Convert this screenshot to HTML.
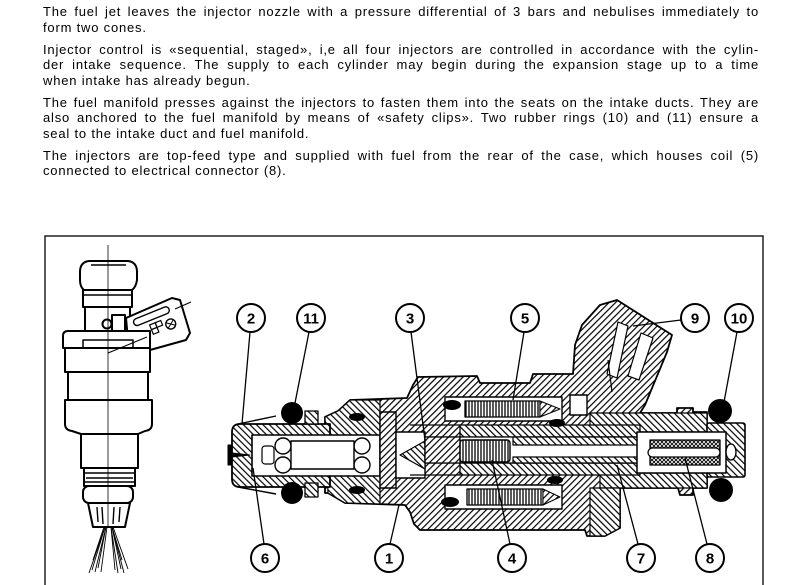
<!DOCTYPE html>
<html><head><meta charset="utf-8">
<style>
html,body{margin:0;padding:0;background:#fff;}
body{width:800px;height:585px;position:relative;overflow:hidden;font-family:"Liberation Sans",Arial,sans-serif;color:#000;}
.l{position:absolute;left:43px;width:716px;font-size:13px;line-height:16px;letter-spacing:0.8px;}
.j{text-align:justify;text-align-last:justify;}
svg{position:absolute;left:0;top:0;}
</style></head><body>
<div class="l j" style="top:4px">The fuel jet leaves the injector nozzle with a pressure differential of 3 bars and nebulises immediately to</div>
<div class="l" style="top:20px">form two cones.</div>
<div class="l j" style="top:42px">Injector control is «sequential, staged», i,e all four injectors are controlled in accordance with the cylin-</div>
<div class="l j" style="top:57px">der intake sequence. The supply to each cylinder may begin during the expansion stage up to a time</div>
<div class="l" style="top:73px">when intake has already begun.</div>
<div class="l j" style="top:95px">The fuel manifold presses against the injectors to fasten them into the seats on the intake ducts. They are</div>
<div class="l j" style="top:110px">also anchored to the fuel manifold by means of «safety clips». Two rubber rings (10) and (11) ensure a</div>
<div class="l" style="top:126px">seal to the intake duct and fuel manifold.</div>
<div class="l j" style="top:148px">The injectors are top-feed type and supplied with fuel from the rear of the case, which houses coil (5)</div>
<div class="l" style="top:163px">connected to electrical connector (8).</div>

<svg width="800" height="585" viewBox="0 0 800 585">
<defs>
<pattern id="hA" patternUnits="userSpaceOnUse" width="4.6" height="4.6" patternTransform="rotate(45)"><rect width="4.6" height="4.6" fill="#fff"/><line x1="0.6" y1="0" x2="0.6" y2="4.6" stroke="#000" stroke-width="1.2"/></pattern>
<pattern id="hB" patternUnits="userSpaceOnUse" width="4.6" height="4.6" patternTransform="rotate(-45)"><rect width="4.6" height="4.6" fill="#fff"/><line x1="0.6" y1="0" x2="0.6" y2="4.6" stroke="#000" stroke-width="1.2"/></pattern>
<pattern id="coil" patternUnits="userSpaceOnUse" width="3" height="20"><rect width="3" height="20" fill="#fff"/><line x1="1" y1="0" x2="1" y2="20" stroke="#000" stroke-width="1.3"/></pattern>
<pattern id="xh" patternUnits="userSpaceOnUse" width="4" height="4"><rect width="4" height="4" fill="#fff"/><path d="M0,0 L4,4 M4,0 L0,4" stroke="#000" stroke-width="0.9"/></pattern>
</defs>

<!-- frame -->
<path d="M45,585 L45,236 L763,236 L763,585" fill="none" stroke="#222" stroke-width="1.5"/>

<!-- left external injector -->
<g fill="#fff" stroke="#000" stroke-width="2" stroke-linejoin="round">
 <path d="M89,261 L128,261 Q137,262 137,272 L137,280 Q136,287 132,290 L84,290 Q80,287 80,280 L80,272 Q80,262 89,261 Z"/>
 <line x1="91" y1="265" x2="126" y2="265" stroke-width="1.5"/>
 <rect x="83" y="290" width="49" height="17"/>
 <line x1="83" y1="295" x2="132" y2="295" stroke-width="1.5"/>
 <rect x="85" y="307" width="45" height="24"/>
 <rect x="112" y="315" width="13" height="16"/>
 <circle cx="107" cy="324" r="4.5"/>
 <path d="M126,318 L172,298 L180,300 L190,333 L186,340 L150,350 L128,340 Z"/>
 <path d="M68,331 L150,331 L150,348 L63,348 L63,336 Q63,331 68,331 Z"/>
 <rect x="83" y="340" width="50" height="8" stroke-width="1.5"/>
 <rect x="65" y="348" width="85" height="24"/>
 <rect x="68" y="372" width="80" height="28"/>
 <path d="M65,400 L152,400 L152,424 Q152,430 145,431 L138,434 L81,434 L72,431 Q65,430 65,424 Z"/>
 <rect x="81" y="434" width="57" height="34"/>
 <rect x="84" y="468" width="51" height="18"/>
 <rect x="83" y="486" width="50" height="17" rx="6"/>
 <path d="M88,503 L130,503 L125,527 L93,527 Z"/>
</g>
<g stroke="#000" stroke-width="1.4" fill="none">
 <line x1="84" y1="473" x2="135" y2="473"/>
 <line x1="86" y1="478" x2="133" y2="478"/>
 <line x1="84" y1="482" x2="135" y2="482"/>
 <line x1="97" y1="507" x2="98" y2="522"/>
 <line x1="102" y1="507" x2="103" y2="524"/>
 <line x1="114" y1="507" x2="113" y2="524"/>
 <line x1="120" y1="507" x2="119" y2="522"/>
 <line x1="108" y1="353" x2="147" y2="337" stroke-width="1"/>
 <line x1="175" y1="309" x2="191" y2="302" stroke-width="1"/>
 <g transform="translate(157,322) rotate(-22)">
  <rect x="-22" y="-11" width="38" height="7" rx="3.5" stroke-width="1.4"/>
  <rect x="-8" y="0" width="6" height="5" stroke-width="1.2"/>
  <rect x="-2" y="0" width="6" height="5" stroke-width="1.2"/>
  <rect x="-8" y="5" width="6" height="5" stroke-width="1.2"/>
  <circle cx="12" cy="7" r="5" stroke-width="1.4"/>
  <path d="M8,4 L16,10 M16,4 L8,10" stroke-width="1"/>
 </g>
</g>
<line x1="108" y1="245" x2="108" y2="528" stroke="#000" stroke-width="0.8"/>
<g stroke="#000" stroke-width="0.9">
 <line x1="105" y1="527" x2="89" y2="573"/><line x1="105" y1="527" x2="92" y2="570"/>
 <line x1="106" y1="527" x2="95" y2="572"/><line x1="106" y1="527" x2="98" y2="568"/>
 <line x1="107" y1="527" x2="101" y2="572"/><line x1="104" y1="527" x2="93" y2="560"/>
 <line x1="111" y1="527" x2="115" y2="570"/><line x1="111" y1="527" x2="118" y2="573"/>
 <line x1="112" y1="527" x2="121" y2="569"/><line x1="112" y1="527" x2="124" y2="573"/>
 <line x1="113" y1="527" x2="128" y2="569"/><line x1="112" y1="527" x2="122" y2="560"/>
</g>

<!-- cross-section -->
<g stroke="#000" stroke-linejoin="round">
 <path d="M325,417 L338,411 L350,400 L407,398 L413,385 L418,377 L477,376 L480,383 L530,383 L533,374 L573,374 L575,345 L582,325 L600,305 L617,300 L672,335 L667,352 L645,405 L640,413 L677,413 L677,408 L693,408 L693,412 L707,412 L707,488 L693,488 L693,495 L680,495 L678,488 L620,488 L620,528 L605,536 L587,536 L585,530 L420,530 L414,524 L410,512 L405,505 L345,503 L328,493 L325,493 Z" fill="url(#hA)" stroke-width="1.8"/>
 <path d="M325,417 L338,411 L350,400 L380,400 L380,504 L345,503 L328,493 Z" fill="url(#hB)" stroke-width="1.2"/>
 <rect x="590" y="413" width="117" height="19" fill="url(#hB)" stroke-width="1.2"/>
 <rect x="600" y="473" width="107" height="15" fill="url(#hB)" stroke-width="1.2"/>
 <path d="M590,488 L620,488 L620,528 L605,536 L590,536 Z" fill="url(#hB)" stroke-width="1.2"/>
 <!-- connector slots -->
 <path d="M618,322 L628,326 L617,378 L607,374 Z" fill="#fff" stroke-width="1.2"/>
 <path d="M641,333 L653,338 L639,380 L628,376 Z" fill="#fff" stroke-width="1.2"/>
 <path d="M608,360 L612,392" fill="none" stroke-width="1.2"/>
 <rect x="570" y="395" width="17" height="20" fill="#fff" stroke-width="1.4"/>
 <!-- nozzle holder -->
 <path d="M240,424 L330,424 L330,487 L240,487 Q232,487 232,479 L232,432 Q232,424 240,424 Z" fill="url(#hB)" stroke-width="1.8"/>
 <rect x="252" y="435" width="128" height="41" fill="#fff" stroke-width="1.6"/>
 <circle cx="283" cy="446" r="8" fill="#fff" stroke-width="1.4"/>
 <circle cx="283" cy="465" r="8" fill="#fff" stroke-width="1.4"/>
 <circle cx="362" cy="446" r="8" fill="#fff" stroke-width="1.4"/>
 <circle cx="362" cy="465" r="8" fill="#fff" stroke-width="1.4"/>
 <rect x="291" y="441" width="63" height="28" fill="#fff" stroke-width="1.4"/>
 <rect x="262" y="446" width="12" height="18" rx="3" fill="#fff" stroke-width="1.2"/>
 <path d="M228,445 L232,445 L232,465 L228,465 Z M232,453 L250,455 L232,457" fill="#000" stroke-width="1"/>
 <path d="M238,424 L276,416 M238,487 L276,494" fill="none" stroke-width="1.4"/>
 <rect x="305" y="411" width="13" height="13" fill="url(#hB)" stroke-width="1.3"/>
 <rect x="305" y="483" width="13" height="14" fill="url(#hB)" stroke-width="1.3"/>
 <!-- seat plate and bore -->
 <rect x="380" y="412" width="16" height="76" fill="url(#hA)" stroke-width="1.4"/>
 <rect x="396" y="432" width="29" height="46" fill="#fff" stroke-width="1.4"/>
 <path d="M400,455 L425,441 L425,469 Z" fill="url(#hB)" stroke-width="1.2"/>
 <rect x="460" y="425" width="180" height="12" fill="url(#hB)" stroke-width="1.3"/>
 <rect x="460" y="463" width="180" height="12" fill="url(#hB)" stroke-width="1.3"/>
 <rect x="425" y="437" width="215" height="26" fill="#fff" stroke-width="1.3"/>
 <rect x="425" y="437" width="35" height="26" fill="url(#hA)" stroke-width="1.3"/>
 <rect x="513" y="437" width="127" height="8" fill="url(#hB)" stroke-width="1.2"/>
 <rect x="513" y="457" width="127" height="6" fill="url(#hB)" stroke-width="1.2"/>
 <rect x="460" y="440" width="50" height="22" rx="3" fill="url(#coil)" stroke-width="1.4"/>
 <line x1="410" y1="425" x2="460" y2="425" stroke-width="1.2"/>
 <line x1="410" y1="475" x2="460" y2="475" stroke-width="1.2"/>
 <!-- coil chambers -->
 <rect x="445" y="397" width="117" height="24" fill="#fff" stroke-width="1.4"/>
 <rect x="465" y="401" width="75" height="16" fill="url(#coil)" stroke-width="1.3"/>
 <rect x="445" y="485" width="117" height="24" fill="#fff" stroke-width="1.4"/>
 <rect x="467" y="489" width="76" height="16" fill="url(#coil)" stroke-width="1.3"/>
 <path d="M540,401 L560,409 L540,417 Z M543,489 L560,497 L543,505 Z" fill="url(#hA)" stroke-width="1"/>
 <!-- seals -->
 <g fill="#000" stroke="none">
  <ellipse cx="452" cy="405" rx="9" ry="5"/>
  <ellipse cx="557" cy="423" rx="8" ry="4"/>
  <ellipse cx="450" cy="502" rx="9" ry="5"/>
  <ellipse cx="555" cy="480" rx="8" ry="4"/>
  <ellipse cx="357" cy="417" rx="8" ry="4"/>
  <ellipse cx="357" cy="490" rx="8" ry="4"/>
 </g>
 <!-- rear end -->
 <rect x="707" y="423" width="38" height="54" rx="2" fill="url(#hB)" stroke-width="1.6"/>
 <rect x="637" y="432" width="89" height="41" fill="#fff" stroke-width="1.5"/>
 <rect x="650" y="440" width="70" height="25" fill="url(#xh)" stroke-width="1.3"/>
 <rect x="648" y="448" width="72" height="9" rx="4.5" fill="#fff" stroke-width="1.3"/>
 <ellipse cx="731" cy="452" rx="5" ry="8" fill="#fff" stroke-width="1.3"/>
 <!-- o-rings -->
 <g fill="#000" stroke="none">
  <circle cx="292" cy="413" r="11"/>
  <circle cx="292" cy="493" r="11"/>
  <circle cx="720" cy="411" r="12"/>
  <circle cx="721" cy="490" r="12"/>
 </g>
</g>

<!-- leader lines -->
<g stroke="#000" stroke-width="1.3">
 <line x1="250" y1="332" x2="242" y2="424"/>
 <line x1="309" y1="332" x2="295" y2="403"/>
 <line x1="411" y1="332" x2="425" y2="440"/>
 <line x1="524" y1="332" x2="513" y2="400"/>
 <line x1="681" y1="320" x2="633" y2="326"/>
 <line x1="737" y1="332" x2="724" y2="402"/>
 <line x1="264" y1="544" x2="253" y2="468"/>
 <line x1="390" y1="544" x2="399" y2="505"/>
 <line x1="510" y1="544" x2="492" y2="460"/>
 <line x1="638" y1="544" x2="617" y2="465"/>
 <line x1="707" y1="544" x2="685" y2="458"/>
</g>

<!-- labels -->
<g fill="#fff" stroke="#000" stroke-width="2">
 <circle cx="251" cy="318" r="14"/><circle cx="311" cy="318" r="14"/><circle cx="410" cy="318" r="14"/>
 <circle cx="525" cy="318" r="14"/><circle cx="695" cy="318" r="14"/><circle cx="739" cy="318" r="14"/>
 <circle cx="265" cy="558" r="14"/><circle cx="389" cy="558" r="14"/><circle cx="512" cy="558" r="14"/>
 <circle cx="641" cy="558" r="14"/><circle cx="710" cy="558" r="14"/>
</g>
<g font-family="Liberation Sans, Arial, sans-serif" font-weight="bold" font-size="15" text-anchor="middle" fill="#000">
 <text x="251" y="323.5">2</text><text x="311" y="323.5">11</text><text x="410" y="323.5">3</text>
 <text x="525" y="323.5">5</text><text x="695" y="323.5">9</text><text x="739" y="323.5">10</text>
 <text x="265" y="563.5">6</text><text x="389" y="563.5">1</text><text x="512" y="563.5">4</text>
 <text x="641" y="563.5">7</text><text x="710" y="563.5">8</text>
</g>
</svg>
</body></html>
